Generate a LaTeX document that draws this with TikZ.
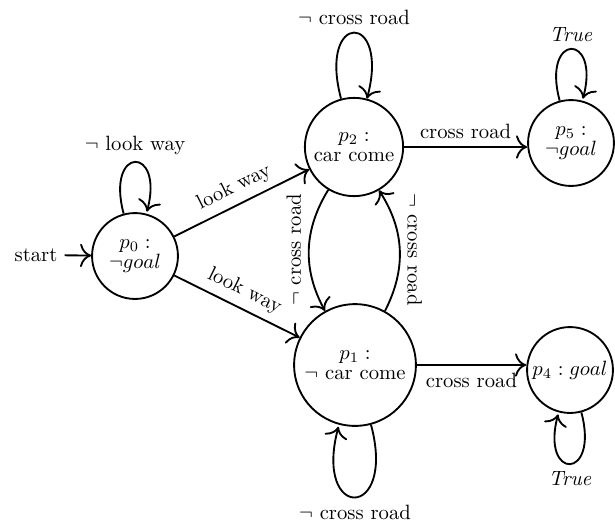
\documentclass[tikz,border=0pt]{standalone}
\usetikzlibrary{automata,arrows.meta}
\begin{document}
\begin{tikzpicture}[x=0.017cm, y=-0.017cm,
  >={To[scale=1.5]},
  state/.style={circle, draw, line width=0.9pt, inner sep=1pt, align=center},
  every edge/.style={draw, line width=0.9pt},
  trans/.style={->, line width=0.9pt}]
  \useasboundingbox (0,0) rectangle (615,521);

  % states
  \node[state, minimum size=1.46cm] (p0) at (135,256) {$p_0:$\\[-2pt]$\neg goal$};
  \node[state, minimum size=1.67cm] (p2) at (354,147) {$p_2:$\\[-2pt]car come};
  \node[state, minimum size=2.07cm] (p1) at (355,365) {$p_1:$\\[-2pt]$\neg$ car come};
  \node[state, minimum size=1.46cm] (p5) at (571,143) {$p_5:$\\[-2pt]$\neg goal$};
  \node[state, minimum size=1.46cm] (p4) at (570,370) {$p_4: goal$};
  \node (start) at (36,255) {start};

  % transitions
  \draw[trans] (start) -- (p0);
  \path[->] (p0) edge[loop above] node {$\neg$ look way} ();
  \draw[trans] (p2) to[out=105, in=75, looseness=9] node[above] {$\neg$ cross road} (p2);
  \path[->] (p5) edge[loop above] node {\textit{True}} ();
  \path[->] (p1) edge[loop below] node {$\neg$ cross road} ();
  \path[->] (p4) edge[loop below] node {\textit{True}} ();

  \draw[trans] (p0) -- node[sloped, above] {look way} (p2);
  \draw[trans] (p0) -- node[sloped, above] {look way} (p1);
  \draw[trans] (p2.east) -- node[above] {cross road} (p5.west |- p2.east);
  \draw[trans] (p1.east) -- node[below] {cross road} (p4.west |- p1.east);
  \draw[trans] (p2.239) to[bend right=30]
    node[midway, rotate=90, anchor=south] {$\neg$ cross road} (p1.119);
  \draw[trans] (p1.61) to[bend right=30]
    node[midway, rotate=-90, anchor=south] {$\neg$ cross road} (p2.300);
\end{tikzpicture}
\end{document}
